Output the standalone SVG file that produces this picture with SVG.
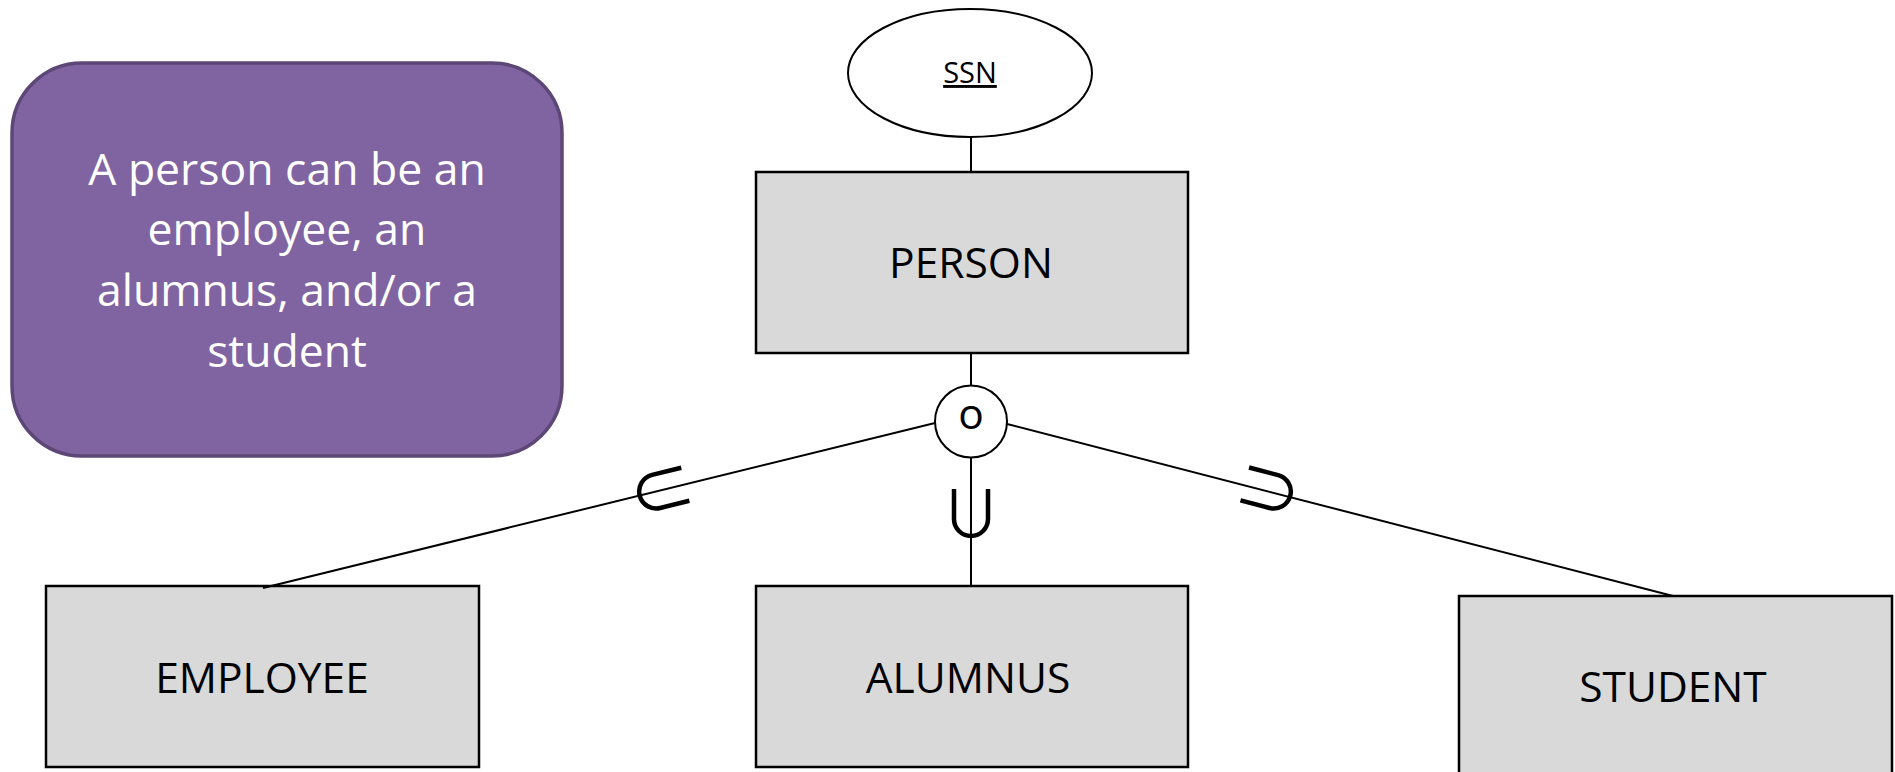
<svg xmlns="http://www.w3.org/2000/svg" width="1895" height="772" viewBox="0 0 1895 772">
<style>
.ent{fill:#d9d9d9;stroke:#000;stroke-width:2.5}
.lbl{font-family:"Open Sans","Noto Sans",sans-serif;font-size:42.5px;fill:#000;text-anchor:middle}
.conn{stroke:#000;stroke-width:2;fill:none}
.sub{stroke:#000;stroke-width:4.5;fill:none;stroke-linecap:butt}
.note{font-family:"Open Sans","Noto Sans",sans-serif;font-size:44.5px;fill:#fff;text-anchor:middle}
</style>
<defs>
<path id="subset" d="M -17,-24 V 6 A 17 17 0 0 0 17 6 V -24"/>
</defs>
<rect width="1895" height="772" fill="#fff"/>
<g id="note">
<rect x="12" y="63" width="550" height="393" rx="70" ry="70" fill="#8064a2" stroke="#5c4776" stroke-width="3.5"/>
<text class="note" x="287" y="185">A person can be an</text>
<text class="note" x="287" y="245">employee, an</text>
<text class="note" x="287" y="306">alumnus, and/or a</text>
<text class="note" x="287" y="367">student</text>
</g>
<g id="ssn">
<ellipse cx="970" cy="73" rx="122" ry="64" fill="#fff" stroke="#000" stroke-width="2"/>
<text x="970" y="83" font-family="'Open Sans','Noto Sans',sans-serif" font-size="29" text-anchor="middle" text-decoration="underline">SSN</text>
</g>
<g id="person">
<rect class="ent" x="756" y="172" width="432" height="181"/>
<text class="lbl" x="971" y="278">PERSON</text>
</g>
<g id="employee">
<rect class="ent" x="46" y="586" width="433" height="181"/>
<text class="lbl" x="262" y="693">EMPLOYEE</text>
</g>
<g id="alumnus">
<rect class="ent" x="756" y="586" width="432" height="181"/>
<text class="lbl" x="968" y="693">ALUMNUS</text>
</g>
<g id="student">
<rect class="ent" x="1459" y="596" width="433" height="190"/>
<text class="lbl" x="1673" y="702">STUDENT</text>
</g>
<g id="connectors">
<line class="conn" x1="971" y1="137" x2="971" y2="173"/>
<line class="conn" x1="971" y1="353" x2="971" y2="386"/>
<line class="conn" x1="971" y1="457" x2="971" y2="586"/>
<line class="conn" x1="935" y1="423" x2="263" y2="588"/>
<line class="conn" x1="1007" y1="424" x2="1673" y2="596"/>
<use href="#subset" class="sub" transform="translate(662,490) rotate(76.2)"/>
<use href="#subset" class="sub" transform="translate(971,513)"/>
<use href="#subset" class="sub" transform="translate(1268,490) rotate(-75.4)"/>
</g>
<g id="overlap">
<circle cx="971" cy="421.5" r="36" fill="#fff" stroke="#000" stroke-width="2"/>
<text class="lbl" x="971" y="429" font-size="41">o</text>
</g>
</svg>
